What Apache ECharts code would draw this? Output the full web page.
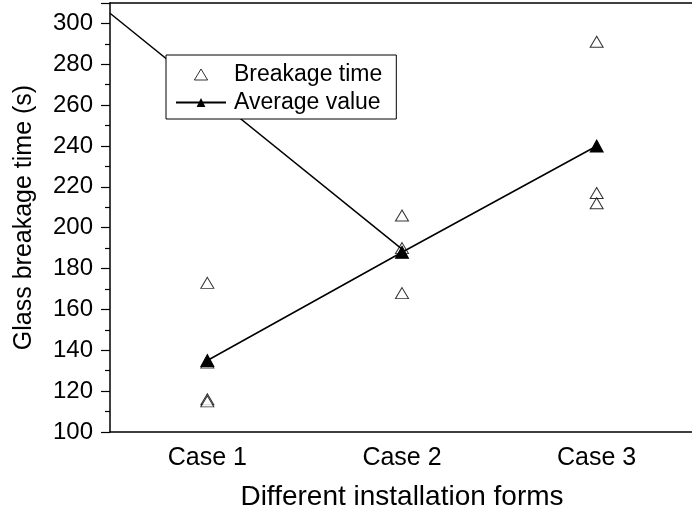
<!DOCTYPE html>
<html>
<head>
<meta charset="utf-8">
<script src="https://cdn.jsdelivr.net/npm/echarts@6/dist/echarts.min.js"></script>
<style>
  html, body { margin: 0; padding: 0; background: #fff; }
  #chart { width: 692px; height: 526px; }
</style>
</head>
<body>
<div id="chart"></div>
<script>
// Installation forms on the category axis
const categories = ['Case 1', 'Case 2', 'Case 3'];

// Individual breakage times (s) per installation form
const breakageCase1 = [173, 134, 116, 115];
const breakageCase2 = [206, 190, 168];
const breakageCase3 = [291, 217, 212];

// Mean breakage time per installation form
const averageValues = [135, 188, 240];

// Straight segment running from the left frame edge down to Case 2
const segmentX = [0, 1.5];
const segmentY = [305, 189.5];

const yTicks = { min: 100, max: 310, interval: 20 };

const scatterData = [];
[breakageCase1, breakageCase2, breakageCase3].forEach(function (vals, i) {
  vals.forEach(function (v) { scatterData.push([categories[i], v]); });
});

const font = 'Arial, "Liberation Sans", sans-serif';

const chart = echarts.init(document.getElementById('chart'), null, { renderer: 'canvas' });
chart.setOption({
  animation: false,
  backgroundColor: '#fff',
  grid: { left: 110, right: -2, top: 3, bottom: 94, containLabel: false, outerBoundsMode: 'none' },
  legend: {
    orient: 'vertical',
    left: 166,
    top: 55,
    padding: [8, 14, 5, 9],
    itemGap: 5,
    itemWidth: 50,
    itemHeight: 11,
    borderColor: '#000',
    borderWidth: 1,
    borderRadius: 0,
    backgroundColor: '#fff',
    symbolKeepAspect: true,
    textStyle: { fontFamily: font, fontSize: 23, color: '#000', padding: [0, 0, 0, 3] },
    data: [
      {
        name: 'Breakage time',
        icon: 'path://M6,0L12,10L0,10Z',
        itemStyle: { color: '#fff', borderColor: '#000', borderWidth: 1 }
      },
      { name: 'Average value' }
    ]
  },
  xAxis: [
    {
      type: 'category',
      data: categories,
      boundaryGap: true,
      name: 'Different installation forms',
      nameLocation: 'middle',
      nameGap: 51,
      nameTextStyle: { fontFamily: font, fontSize: 28, color: '#000' },
      axisLine: { lineStyle: { color: '#000', width: 1.5 } },
      axisTick: { alignWithLabel: true, length: 7, lineStyle: { color: '#000', width: 1.2 } },
      axisLabel: { fontFamily: font, fontSize: 25, color: '#000', margin: 14 },
      splitLine: { show: false }
    },
    {
      type: 'value',
      min: 0,
      max: 3,
      show: false
    },
    {
      type: 'category',
      position: 'top',
      data: categories,
      axisLine: { show: true, lineStyle: { color: '#000', width: 1.5 } },
      axisTick: { show: false },
      axisLabel: { show: false }
    }
  ],
  yAxis: {
    type: 'value',
    min: yTicks.min,
    max: yTicks.max,
    interval: yTicks.interval,
    name: 'Glass breakage time (s)',
    nameLocation: 'middle',
    nameGap: 73,
    nameTextStyle: { fontFamily: font, fontSize: 25, color: '#000' },
    axisLine: { show: true, lineStyle: { color: '#000', width: 1.5 } },
    axisTick: { show: true, length: 9, lineStyle: { color: '#000', width: 1.2 } },
    minorTick: { show: true, splitNumber: 2, length: 5, lineStyle: { color: '#000', width: 1.2 } },
    axisLabel: {
      fontFamily: font, fontSize: 24, color: '#000', margin: 17,
      formatter: function (v) { return v > 300 ? '' : v; }
    },
    splitLine: { show: false }
  },
  series: [
    {
      name: 'Breakage time',
      type: 'scatter',
      data: scatterData,
      symbol: 'triangle',
      symbolSize: [13, 11],
      itemStyle: { color: '#fff', borderColor: '#000', borderWidth: 1 },
      z: 2
    },
    {
      name: 'segment',
      type: 'line',
      xAxisIndex: 1,
      data: segmentX.map(function (x, i) { return [x, segmentY[i]]; }),
      showSymbol: false,
      symbol: 'none',
      lineStyle: { color: '#000', width: 1.5 },
      z: 3
    },
    {
      name: 'Average value',
      type: 'line',
      data: averageValues,
      symbol: 'triangle',
      symbolSize: [13, 12],
      itemStyle: { color: '#000', borderColor: '#000' },
      lineStyle: { color: '#000', width: 1.5 },
      z: 4
    }
  ]
});
</script>
</body>
</html>
